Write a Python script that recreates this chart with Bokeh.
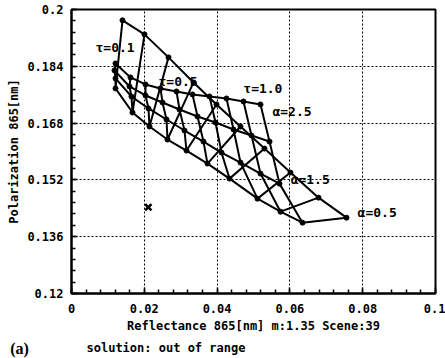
from bokeh.plotting import figure
from bokeh.layouts import column
from bokeh.models import Range1d, FixedTicker, Label
from bokeh.embed import file_html
from bokeh.resources import INLINE

# ---- data ----
alphas = [2.5, 2.0, 1.5, 1.0, 0.5]
taus = [0.1, 0.2, 0.3, 0.4, 0.5, 0.6, 0.7, 0.8, 0.9, 1.0]

refl_a25 = [0.01209, 0.01621, 0.02033, 0.02445, 0.02885, 0.03324, 0.03791, 0.04258, 0.04725, 0.05192]
pol_a25 = [0.18481, 0.18086, 0.17889, 0.17776, 0.17691, 0.17607, 0.17550, 0.17494, 0.17409, 0.17325]

refl_a20 = [0.01181, 0.01593, 0.02033, 0.02500, 0.02967, 0.03462, 0.03956, 0.04451, 0.04945, 0.05440]
pol_a20 = [0.18284, 0.17832, 0.17578, 0.17381, 0.17183, 0.16986, 0.16817, 0.16619, 0.16450, 0.16280]

refl_a15 = [0.01209, 0.01648, 0.02115, 0.02610, 0.03104, 0.03626, 0.04121, 0.04643, 0.05192, 0.05714]
pol_a15 = [0.18058, 0.17550, 0.17212, 0.16901, 0.16591, 0.16280, 0.15970, 0.15688, 0.15378, 0.15095]

refl_a10 = [0.01209, 0.01676, 0.02143, 0.02637, 0.03159, 0.03736, 0.04341, 0.05110, 0.05742, 0.06346]
pol_a10 = [0.17776, 0.17099, 0.16704, 0.16337, 0.16027, 0.15660, 0.15236, 0.14672, 0.14305, 0.13995]

refl_a05 = [0.01401, 0.02005, 0.02665, 0.03352, 0.03984, 0.04643, 0.05302, 0.06016, 0.06786, 0.07555]
pol_a05 = [0.19695, 0.19300, 0.18651, 0.17945, 0.17325, 0.16704, 0.16083, 0.15406, 0.14700, 0.14136]

obs_refl = [0.0211]
obs_pol = [0.1443]

x_ticks = [0.0, 0.02, 0.04, 0.06, 0.08, 0.1]
x_tick_labels = ["0", "0.02", "0.04", "0.06", "0.08", "0.1"]
y_ticks = [0.12, 0.136, 0.152, 0.168, 0.184, 0.2]
y_tick_labels = ["0.12", "0.136", "0.152", "0.168", "0.184", "0.2"]

tau_label_texts = ["τ=0.1", "τ=0.5", "τ=1.0"]
alpha_label_texts = ["α=2.5", "α=1.5", "α=0.5"]
panel_tag = "(a)"
status_text = "solution: out of range"

# ---- main figure ----
MONO = "DejaVu Sans Mono"

p = figure(width=445, height=338, x_range=Range1d(0, 0.1), y_range=Range1d(0.12, 0.2),
           output_backend="svg", toolbar_location=None,
           min_border_left=71, min_border_right=10, min_border_top=9, min_border_bottom=45)
p.frame_align = False
p.background_fill_color = "white"
p.border_fill_color = "white"
p.outline_line_color = "black"
p.outline_line_width = 2

p.xaxis.ticker = FixedTicker(ticks=x_ticks, minor_ticks=[i * 0.004 for i in range(26)])
p.yaxis.ticker = FixedTicker(ticks=y_ticks, minor_ticks=[0.12 + i * 0.0032 for i in range(26)])
p.xaxis.major_label_overrides = dict(zip(x_ticks, x_tick_labels))
p.yaxis.major_label_overrides = dict(zip(y_ticks, y_tick_labels))

p.axis.axis_line_width = 2
p.axis.axis_line_color = "black"
p.axis.major_tick_in = 6
p.axis.major_tick_out = 0
p.axis.minor_tick_in = 4
p.axis.minor_tick_out = 0
p.axis.major_tick_line_width = 1.5
p.axis.minor_tick_line_width = 1.5
p.axis.major_tick_line_color = "black"
p.axis.minor_tick_line_color = "black"
p.axis.major_label_text_font = MONO
p.axis.major_label_text_font_style = "bold"
p.axis.major_label_text_font_size = "12px"
p.axis.major_label_text_color = "black"
p.xaxis.major_label_standoff = 10
p.yaxis.major_label_standoff = 8

p.xaxis.axis_label = "Reflectance 865[nm] m:1.35 Scene:39"
p.yaxis.axis_label = "Polarization 865[nm]"
p.axis.axis_label_text_font = MONO
p.axis.axis_label_text_font_style = "bold"
p.axis.axis_label_text_font_size = "12px"
p.axis.axis_label_text_color = "black"
p.xaxis.axis_label_standoff = 3
p.yaxis.axis_label_standoff = 3

p.grid.grid_line_color = "black"
p.grid.grid_line_dash = "2 2"
p.grid.grid_line_width = 1

# ---- mesh ----
refl_rows = [refl_a25, refl_a20, refl_a15, refl_a10, refl_a05]
pol_rows = [pol_a25, pol_a20, pol_a15, pol_a10, pol_a05]

p.multi_line(xs=refl_rows, ys=pol_rows, line_color="black", line_width=2)
tau_xs = [[row[j] for row in refl_rows] for j in range(len(taus))]
tau_ys = [[row[j] for row in pol_rows] for j in range(len(taus))]
p.multi_line(xs=tau_xs, ys=tau_ys, line_color="black", line_width=2)

all_x = [v for row in refl_rows for v in row]
all_y = [v for row in pol_rows for v in row]
p.scatter(all_x, all_y, size=5, color="black")

p.scatter(obs_refl, obs_pol, marker="x", size=9, line_color="black", line_width=2.5)

label_pos_tau = [(0.0066, 0.1892), (0.0239, 0.1797), (0.0472, 0.1778)]
label_pos_alpha = [(0.0552, 0.1713), (0.0602, 0.1521), (0.0786, 0.1429)]
for txt, (lx, ly) in zip(tau_label_texts + alpha_label_texts, label_pos_tau + label_pos_alpha):
    p.add_layout(Label(x=lx, y=ly, text=txt, text_font=MONO, text_font_style="bold",
                       text_font_size="13px", text_align="left", text_baseline="middle",
                       text_color="black"))

# ---- strip below the chart for the caption texts ----
q = figure(width=445, height=20, x_range=Range1d(0, 445), y_range=Range1d(0, 20),
           output_backend="svg", toolbar_location=None,
           min_border_left=0, min_border_right=0, min_border_top=0, min_border_bottom=0)
q.frame_align = False
q.axis.visible = False
q.grid.visible = False
q.outline_line_color = None
q.background_fill_color = "white"
q.border_fill_color = "white"
q.add_layout(Label(x=19, y=10, text=panel_tag, text_font="Liberation Serif",
                   text_font_style="bold", text_font_size="16px", text_align="center",
                   text_baseline="middle", text_color="black"))
q.add_layout(Label(x=86, y=11, text=status_text, text_font=MONO,
                   text_font_style="bold", text_font_size="12px", text_align="left",
                   text_baseline="middle", text_color="black"))

layout = column(p, q, spacing=0)
open("out.html", "w").write(file_html(layout, INLINE))
